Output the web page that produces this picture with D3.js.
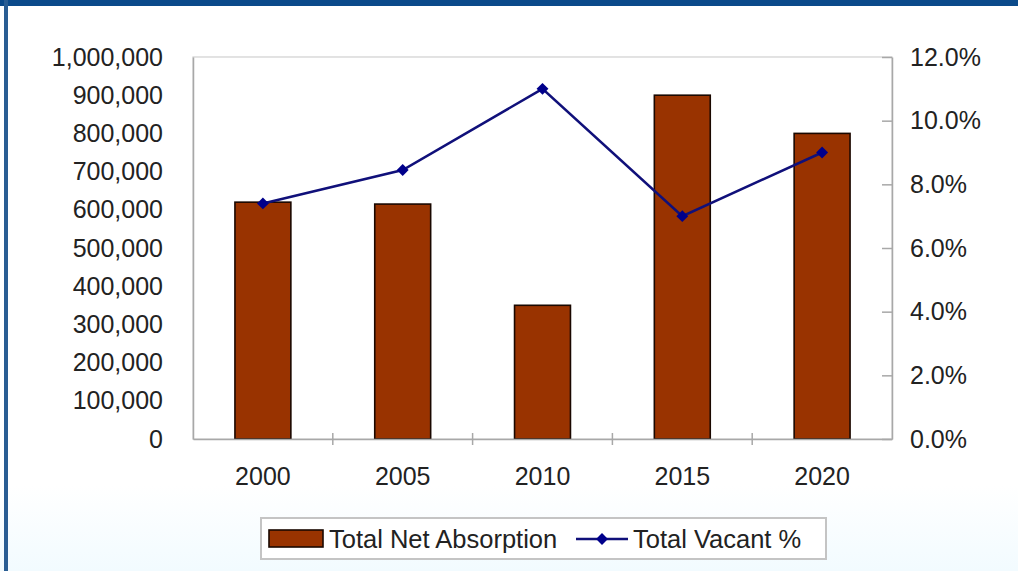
<!DOCTYPE html>
<html>
<head>
<meta charset="utf-8">
<script src="https://cdn.jsdelivr.net/npm/d3@7"></script>
<style>
  html, body { margin: 0; padding: 0; background: #fff; }
  #chart { width: 1018px; height: 571px; }
  text { font-family: Arial, "Liberation Sans", sans-serif; fill: #222; }
</style>
</head>
<body>
<div id="chart"></div>
<script>
  const years = ['2000', '2005', '2010', '2015', '2020'];
  const absorption = [620000, 615000, 350000, 900000, 800000];
  const vacantPct = [7.4, 8.45, 11.0, 7.0, 9.0];
  const leftTicks = [0, 100000, 200000, 300000, 400000, 500000, 600000, 700000, 800000, 900000, 1000000];
  const rightTicks = [0, 2, 4, 6, 8, 10, 12];
  const legendLabels = ['Total Net Absorption', 'Total Vacant %'];

  const COLORS = {
    bar: '#993300',
    line: '#10107a',
    axis: '#a8a8a8',
    frame: '#0b4a8a',
  };

  const width = 1018;
  const height = 571;
  const margin = { top: 57, right: 126, bottom: 132, left: 193 };
  const FONT = '25px';

  const svg = d3.select('#chart').append('svg').attr('width', width).attr('height', height);

  // faint blue wash and outer frame
  const grad = svg.append('defs').append('linearGradient')
    .attr('id', 'bg').attr('x1', 0).attr('y1', 0).attr('x2', 0).attr('y2', 1);
  grad.append('stop').attr('offset', '0%').attr('stop-color', '#ffffff');
  grad.append('stop').attr('offset', '85%').attr('stop-color', '#ffffff');
  grad.append('stop').attr('offset', '100%').attr('stop-color', '#f2fbff');
  svg.append('rect').attr('width', width).attr('height', height).attr('fill', 'url(#bg)');
  svg.append('rect').attr('x', 0).attr('y', 0).attr('width', width).attr('height', 6).attr('fill', COLORS.frame);
  svg.append('rect').attr('x', 4).attr('y', 0).attr('width', 4).attr('height', height).attr('fill', '#2a5d93');

  const x = d3.scaleBand().domain(years).range([margin.left, width - margin.right]).paddingInner(0.6).paddingOuter(0.3);
  const xEdge = d3.scaleBand().domain(years).range([margin.left, width - margin.right]);
  const yLeft = d3.scaleLinear().domain([0, 1000000]).range([height - margin.bottom, margin.top]);
  const yRight = d3.scaleLinear().domain([0, 12]).range([height - margin.bottom, margin.top]);

  // plot area border
  svg.append('rect')
    .attr('x', margin.left).attr('y', margin.top)
    .attr('width', width - margin.left - margin.right)
    .attr('height', height - margin.top - margin.bottom)
    .attr('fill', 'none').attr('stroke', '#d0d0d0').attr('stroke-width', 1.2);

  // bars
  svg.selectAll('.bar')
    .data(years)
    .enter()
    .append('rect')
    .attr('class', 'bar')
    .attr('x', (d) => x(d))
    .attr('y', (d, i) => yLeft(absorption[i]))
    .attr('width', x.bandwidth())
    .attr('height', (d, i) => yLeft(0) - yLeft(absorption[i]))
    .attr('fill', COLORS.bar)
    .attr('stroke', '#1a0800')
    .attr('stroke-width', 1.6);

  // left axis
  const leftAxis = svg.append('g')
    .attr('transform', `translate(${margin.left},0)`)
    .call(d3.axisLeft(yLeft).tickValues(leftTicks).tickSize(0).tickPadding(30).tickFormat(d3.format(',')));
  leftAxis.select('.domain').attr('stroke', COLORS.axis).attr('stroke-width', 1.5);
  leftAxis.selectAll('text').style('font-size', FONT).attr('fill', '#222');

  // right axis
  const rightAxis = svg.append('g')
    .attr('transform', `translate(${width - margin.right},0)`)
    .call(d3.axisRight(yRight).tickValues(rightTicks).tickSize(0).tickPadding(18).tickFormat((v) => `${v.toFixed(1)}%`));
  rightAxis.select('.domain').attr('stroke', COLORS.axis).attr('stroke-width', 1.5);
  rightAxis.selectAll('text').style('font-size', FONT).attr('fill', '#222');
  rightAxis.selectAll('.tick').append('line')
    .attr('x1', -10).attr('x2', 0).attr('stroke', COLORS.axis).attr('stroke-width', 1.5);

  // bottom axis
  const bottomAxis = svg.append('g')
    .attr('transform', `translate(0,${height - margin.bottom})`)
    .call(d3.axisBottom(xEdge).tickSize(0).tickPadding(28));
  bottomAxis.select('.domain').attr('stroke', COLORS.axis).attr('stroke-width', 1.5);
  bottomAxis.selectAll('text').style('font-size', FONT).attr('fill', '#222');
  svg.append('g')
    .selectAll('line')
    .data(years.slice(1))
    .enter()
    .append('line')
    .attr('x1', (d) => xEdge(d)).attr('x2', (d) => xEdge(d))
    .attr('y1', yLeft(0) - 6).attr('y2', yLeft(0) + 6)
    .attr('stroke', COLORS.axis).attr('stroke-width', 1.5);

  // vacancy line
  const line = d3.line()
    .x((d, i) => x(years[i]) + x.bandwidth() / 2)
    .y((d) => yRight(d));
  svg.append('path')
    .datum(vacantPct)
    .attr('d', line)
    .attr('fill', 'none')
    .attr('stroke', COLORS.line)
    .attr('stroke-width', 2.5);

  const diamond = d3.symbol().type(d3.symbolDiamond2).size(90);
  svg.selectAll('.marker')
    .data(vacantPct)
    .enter()
    .append('path')
    .attr('class', 'marker')
    .attr('d', diamond)
    .attr('transform', (d, i) => `translate(${x(years[i]) + x.bandwidth() / 2},${yRight(d)})`)
    .attr('fill', '#00008b');

  // legend
  const legend = svg.append('g');
  legend.append('rect')
    .attr('x', 261).attr('y', 518).attr('width', 565).attr('height', 41)
    .attr('fill', '#fff').attr('stroke', '#c4c4c4').attr('stroke-width', 2);
  legend.append('rect')
    .attr('x', 269).attr('y', 530).attr('width', 54).attr('height', 17)
    .attr('fill', COLORS.bar).attr('stroke', '#1a0800').attr('stroke-width', 1.6);
  legend.append('text')
    .attr('x', 329).attr('y', 548)
    .style('font-size', '25.5px')
    .text(legendLabels[0]);
  legend.append('line')
    .attr('x1', 576).attr('x2', 628).attr('y1', 539).attr('y2', 539)
    .attr('stroke', COLORS.line).attr('stroke-width', 2.5);
  legend.append('path')
    .attr('d', diamond)
    .attr('transform', 'translate(602,539)')
    .attr('fill', '#00008b');
  legend.append('text')
    .attr('x', 633).attr('y', 548)
    .style('font-size', '25.5px')
    .text(legendLabels[1]);
</script>
</body>
</html>
